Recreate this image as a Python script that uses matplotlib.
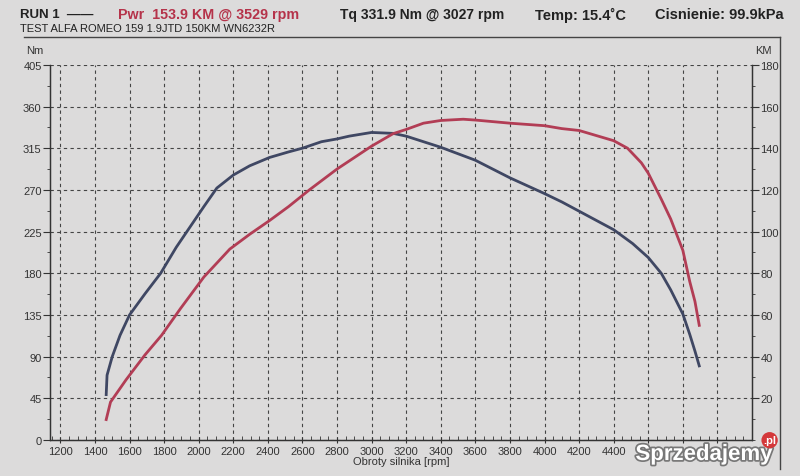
import matplotlib.pyplot as plt
import matplotlib.patheffects as pe
from matplotlib.ticker import MultipleLocator

# torque curve (Nm)
rpm_tq = [1465, 1470, 1500, 1545, 1600, 1690, 1780, 1870, 1950, 2030, 2105, 2200,
          2295, 2410, 2520, 2600, 2710, 2800, 2870, 3000, 3125, 3200, 3300, 3400,
          3600, 3800, 4000, 4100, 4200, 4400, 4510, 4600, 4675, 4730, 4800, 4840,
          4870, 4895]
torque = [49, 70, 90, 113, 135, 158, 180, 208, 230, 252, 272, 286,
          296, 305, 311, 315, 322, 325, 328, 332, 331, 328, 322, 316,
          302, 283, 266, 257, 247, 227, 212, 197, 180, 162, 136, 114,
          96, 80]

# power curve (KM)
rpm_pwr = [1465, 1490, 1580, 1690, 1785, 1895, 2030, 2180, 2295, 2410, 2520, 2640,
           2800, 3000, 3125, 3200, 3300, 3400, 3530, 3600, 3800, 4000, 4100, 4200,
           4400, 4480, 4560, 4600, 4675, 4730, 4800, 4840, 4870, 4895]
power = [9.8, 18.2, 28.9, 40.9, 50.2, 63.1, 78.2, 91.6, 98.7, 105.3, 112, 120,
         130, 141, 147, 149, 152, 153.3, 153.9, 153.5, 152, 150.8, 149.4, 148.5,
         143.6, 140, 133, 128, 115.6, 106, 91, 76, 66.5, 55]

x_ticks = list(range(1200, 5001, 200))
# labels past 4400 are hidden under the watermark on the sheet
x_labels = [str(v) if v <= 4400 else '' for v in x_ticks]
nm_ticks = list(range(0, 406, 45))
km_ticks = [20, 40, 60, 80, 100, 120, 140, 160, 180]

plt.rcParams['font.family'] = ['Liberation Sans', 'DejaVu Sans']

bg = '#dcdbdb'
fig = plt.figure(figsize=(8, 4.77), dpi=100, facecolor=bg)
ax = fig.add_axes([0.0625, 0.0755, 0.8775, 0.7865], facecolor=bg)
ax2 = ax.twinx()

ax.plot(rpm_tq, torque, color='#3f4763', lw=2.0, zorder=3)
ax2.plot(rpm_pwr, power, color='#b23d55', lw=2.0, zorder=3)

ax.set_xlim(1140, 5200)
ax.set_ylim(0, 405)
ax2.set_ylim(0, 180)

ax.set_xticks(x_ticks)
ax.set_xticklabels(x_labels)
ax.set_yticks(nm_ticks)
ax.xaxis.set_minor_locator(MultipleLocator(50))
ax.yaxis.set_minor_locator(MultipleLocator(22.5))
ax2.set_yticks(km_ticks)
ax2.yaxis.set_minor_locator(MultipleLocator(10))

ax.grid(True, which='major', color='#444444', ls=(0, (3, 3)), lw=0.8)
ax.set_axisbelow(True)

for a in (ax, ax2):
    a.spines['top'].set_visible(False)
    for s in a.spines.values():
        s.set_color('#333333')
        s.set_linewidth(0.9)

ax.tick_params(axis='x', direction='inout', length=5, labelsize=8, colors='#333333', pad=2)
ax.tick_params(axis='x', which='minor', direction='in', length=3, color='#333333')
ax.tick_params(axis='y', direction='out', length=5, labelsize=8, colors='#333333', pad=1)
ax.tick_params(axis='y', which='minor', direction='out', length=2.5, color='#333333')
ax2.tick_params(axis='y', direction='out', length=5, labelsize=8, colors='#333333', pad=1)
ax2.tick_params(axis='y', which='minor', direction='out', length=2.5, color='#333333')

ax.set_xlabel('Obroty silnika [rpm]', fontsize=8, color='#333333', labelpad=0)
ax.text(-0.01, 1.025, 'Nm', transform=ax.transAxes, fontsize=8, color='#333333',
        ha='right', va='bottom')
ax2.text(1.005, 1.025, 'KM', transform=ax.transAxes, fontsize=8, color='#333333',
         ha='left', va='bottom')

# header
fig.text(0.025, 0.968, 'RUN 1  \u2014\u2014', fontsize=9.5, fontweight='bold', color='#222222', va='center')
fig.text(0.147, 0.968, 'Pwr  153.9 KM @ 3529 rpm', fontsize=10.3, fontweight='bold', color='#b5334a', va='center')
fig.text(0.425, 0.968, 'Tq 331.9 Nm @ 3027 rpm', fontsize=10, fontweight='bold', color='#222222', va='center')
fig.text(0.669, 0.968, 'Temp: 15.4\u02daC', fontsize=10.5, fontweight='bold', color='#222222', va='center')
fig.text(0.819, 0.968, 'Cisnienie: 99.9kPa', fontsize=10.5, fontweight='bold', color='#222222', va='center')
fig.text(0.025, 0.940, 'TEST ALFA ROMEO 159 1.9JTD 150KM WN6232R', fontsize=8, color='#222222', va='center')

fig.add_artist(plt.Line2D([0.03, 0.975], [0.92, 0.92], color='#444444', lw=1))
fig.add_artist(plt.Line2D([0.975, 0.975], [0.92, 0.015], color='#444444', lw=1))

# watermark
wm = fig.text(0.88, 0.045, 'Sprzedajemy', fontsize=16, fontweight='bold', color='white',
              ha='center', va='center', zorder=10)
wm.set_path_effects([pe.withStroke(linewidth=2.5, foreground='#777777')])
fig.text(0.962, 0.075, '.pl', fontsize=8, fontweight='bold', color='white', ha='center', va='center',
         zorder=11, bbox=dict(boxstyle='circle,pad=0.15', fc='#d4383a', ec='none'))

fig.savefig('out.png', dpi=100, facecolor=bg)
